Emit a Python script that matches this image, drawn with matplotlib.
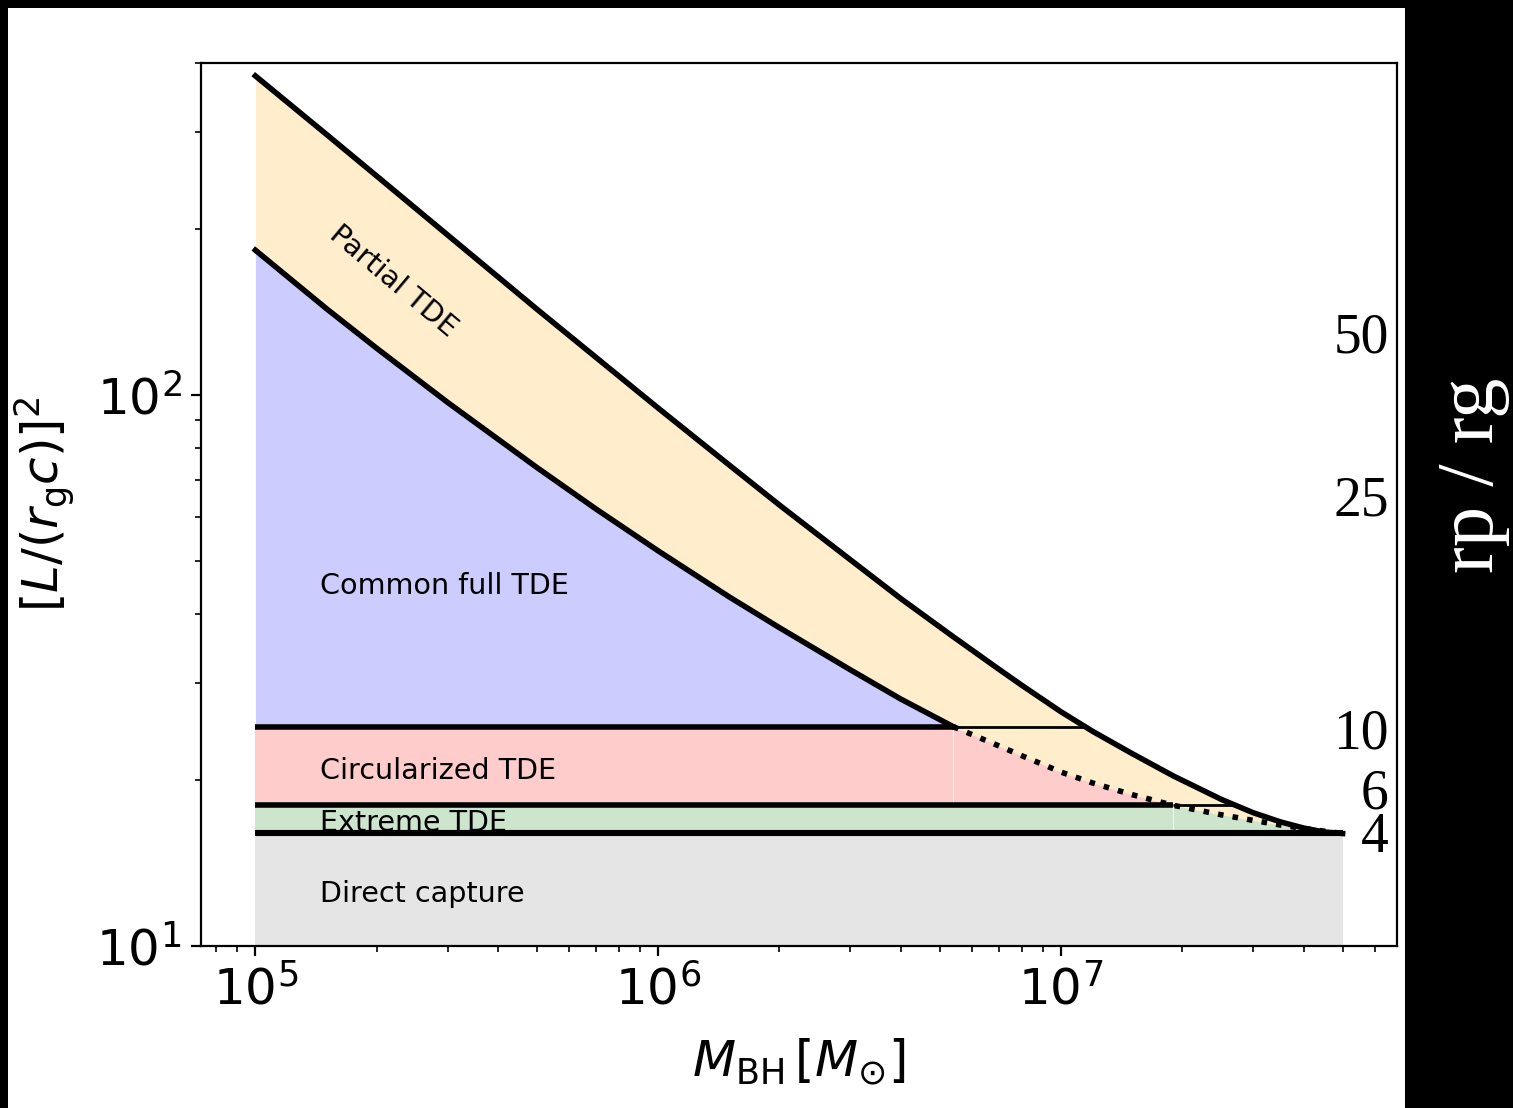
import numpy as np
import matplotlib.pyplot as plt
from matplotlib.patches import Rectangle

# black hole masses [M_sun] where the boundaries are sampled
mass = np.array([1e5, 1.5e5, 2e5, 3e5, 5e5, 7e5, 1e6, 1.5e6, 2e6, 3e6, 4e6,
                 5.4e6, 7e6, 8e6, 1e7, 1.2e7, 1.5e7, 1.9e7, 2.5e7, 3e7, 3.5e7,
                 4e7, 4.5e7, 5e7])
# [L/(r_g c)]^2 on the partial disruption boundary
l2_partial = np.array([379, 297, 249.5, 195, 143, 117, 94.6, 74.6, 63.1, 50.2, 42.7,
                       36.4, 31.8, 29.7, 26.6, 24.5, 22.35, 20.35, 18.45, 17.45, 16.8,
                       16.37, 16.1, 16.0])
# [L/(r_g c)]^2 on the full disruption boundary
l2_full = np.array([183, 143.4, 121.5, 96.9, 73.8, 62.1, 52.1, 43.0, 37.8, 31.7, 28.06,
                    25.0, 23.08, 22.14, 20.68, 19.75, 18.82, 18.0, 17.3, 16.9, 16.58,
                    16.34, 16.16, 16.0])

# parabolic orbits with r_p = 10, 6, 4 r_g
l2_circ = 25
l2_extreme = 18
l2_capture = 16
l2_floor = 10

rp_labels = ['50', '25', '10', '6', '4']
rp_label_y = [0.672, 0.488, 0.224, 0.156, 0.1065]

region_names = ['Common full TDE', 'Circularized TDE', 'Extreme TDE', 'Direct capture']
region_y = [43.6, 20.1, 16.18, 12.03]


def crossing(l2, level):
    # mass where a (decreasing) boundary reaches a given L^2
    return 10 ** np.interp(np.log10(level), np.log10(l2[::-1]), np.log10(mass[::-1]))


idx = np.arange(len(mass))
k_circ = np.argmin(np.abs(l2_full - l2_circ))
k_ext = np.argmin(np.abs(l2_full - l2_extreme))
m_part_circ = crossing(l2_partial, l2_circ)
m_part_ext = crossing(l2_partial, l2_extreme)

fig = plt.figure(figsize=(1513 / 200, 1108 / 200), dpi=200, facecolor='black')
fig.patches.append(Rectangle((8 / 1513, 0), (1405 - 8) / 1513, 1100 / 1108,
                             transform=fig.transFigure, facecolor='white',
                             edgecolor='none', zorder=-10))
ax = fig.add_axes([201 / 1513, 1 - 946 / 1108, 1196 / 1513, 883 / 1108])
ax.set_xscale('log')
ax.set_yscale('log')

# coloured regions
ax.fill_between(mass, l2_floor, l2_capture, color='gray', alpha=0.2, lw=0)
green_top = np.minimum(l2_full, l2_extreme)
ax.fill_between(mass, l2_capture, green_top, where=idx <= k_ext,
                color='green', alpha=0.2, lw=0)
ax.fill_between(mass, l2_capture, green_top, where=idx >= k_ext,
                color='green', alpha=0.2, lw=0)
red_top = np.clip(l2_full, l2_extreme, l2_circ)
ax.fill_between(mass, l2_extreme, red_top, where=idx <= k_circ,
                color='red', alpha=0.2, lw=0)
ax.fill_between(mass, l2_extreme, red_top, where=idx >= k_circ,
                color='red', alpha=0.2, lw=0)
ax.fill_between(mass, l2_circ, np.maximum(l2_full, l2_circ), color='blue', alpha=0.2, lw=0)
ax.fill_between(mass, l2_full, l2_partial, color='orange', alpha=0.2, lw=0)

# boundaries
ax.plot(mass, l2_partial, color='black', lw=2)
ax.plot(mass[:k_circ + 1], l2_full[:k_circ + 1], color='black', lw=2)
ax.plot(mass[k_circ:], l2_full[k_circ:], color='black', lw=2, ls=':')
ax.hlines(l2_circ, mass[0], mass[k_circ], color='black', lw=2)
ax.hlines(l2_circ, mass[k_circ], m_part_circ, color='black', lw=1)
ax.hlines(l2_extreme, mass[0], mass[k_ext], color='black', lw=2)
ax.hlines(l2_extreme, mass[k_ext], m_part_ext, color='black', lw=1)
ax.hlines(l2_capture, mass[0], mass[-1], color='black', lw=2.2)

for name, y in zip(region_names, region_y):
    ax.text(1.449e5, y, name, fontsize=10.3, ha='left', va='baseline')
ax.text(2.2e5, 161, 'Partial TDE', fontsize=10.3, rotation=-40,
        ha='center', va='center')

for lab, y in zip(rp_labels, rp_label_y):
    ax.text(0.993, y, lab, transform=ax.transAxes, fontsize=20,
            family='Liberation Serif', ha='right', va='baseline')
fig.text(1474 / 1513, 1 - 475 / 1108, 'rp / rg', rotation=90, color='white',
         fontsize=29, family='Liberation Serif', ha='center', va='center')

ax.set_xlim(10 ** 4.865, 10 ** 7.834)
ax.set_ylim(10, 400)
ax.tick_params(labelsize=18)
ax.set_xlabel(r'$M_{\rm BH}\,[M_{\odot}]$', fontsize=18)
ax.set_ylabel(r'$[L/(r_{\rm g}c)]^2$', fontsize=18)
ax.xaxis.set_label_coords(0.5, -0.103)
ax.yaxis.set_label_coords(-0.104, 0.5)

fig.savefig('out.png', dpi=200)
